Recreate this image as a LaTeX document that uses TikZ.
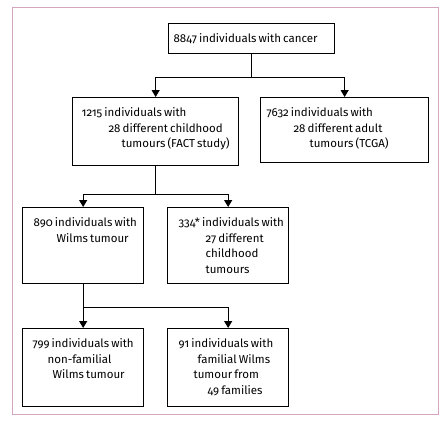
\documentclass[tikz,border=0pt]{standalone}
\usepackage{fontspec}
\setmainfont{Fira Sans}[Numbers=OldStyle,WordSpace=0.7]
\usetikzlibrary{arrows.meta}
\definecolor{framepink}{RGB}{212,165,190}
\newcommand{\inbox}[3]{\parbox[t][#2][t]{#1}{\fontsize{11.5}{15.5}\selectfont\vspace*{10pt}#3}}
\begin{document}
\begin{tikzpicture}[x=1pt,y=-1pt,
	box/.style={draw, line width=1.3pt, inner sep=0pt, anchor=north west},
	link/.style={line width=1.1pt},
	arr/.style={link, -{Triangle[width=8pt,length=7pt]}}]
	\useasboundingbox (0,0) rectangle (445,421);
	\draw[framepink, line width=0.9pt] (12,7) rectangle (438,414);
	\node (cancer) at (168, 23)	[box]	{\inbox{166pt}{30pt}{\hspace*{5pt}8847 individuals with cancer}};
	\node (fact)   at ( 72, 97)	[box]	{\inbox{166pt}{68pt}{\hspace*{9pt}1215 individuals with\\\hspace*{36pt}28 different childhood\\\hspace*{49pt}tumours (FACT study)}};
	\node (tcga)   at (260, 97)	[box]	{\inbox{168pt}{65pt}{\hspace*{6pt}7632 individuals with\\\hspace*{33pt}28 different adult\\\hspace*{49pt}tumours (TCGA)}};
	\node (wilms)  at ( 22,207)	[box]	{\inbox{121pt}{76pt}{\hspace*{11pt}890 individuals with\\\hspace*{34pt}Wilms tumour}};
	\node (other)  at (167,207)	[box]	{\inbox{121pt}{76pt}{\hspace*{11pt}334* individuals with\\\hspace*{38pt}27 different\\\hspace*{38pt}childhood\\\hspace*{38pt}tumours}};
	\node (nonfam) at ( 22,328)	[box]	{\inbox{121pt}{78pt}{\hspace*{10pt}799 individuals with\\\hspace*{25pt}non-familial\\\hspace*{30pt}Wilms tumour}};
	\node (fam)    at (167,328)	[box]	{\inbox{121pt}{78pt}{\hspace*{11pt}91 individuals with\\\hspace*{30pt}familial Wilms\\\hspace*{26pt}tumour from\\\hspace*{40pt}49 families}};
	\draw[link] (cancer.south) -- ++(0,23) coordinate (j1);
	\draw[arr] (j1) -| (fact.north);
	\draw[arr] (j1) -| (tcga.north);
	\draw[link] (fact.south) -- ++(0,28) coordinate (j2);
	\draw[arr] (j2) -| (wilms.north);
	\draw[arr] (j2) -| (other.north);
	\draw[link] (wilms.south) -- ++(0,23) coordinate (j3);
	\draw[arr] (j3) -| (nonfam.north);
	\draw[arr] (j3) -| (fam.north);
\end{tikzpicture}
\end{document}
